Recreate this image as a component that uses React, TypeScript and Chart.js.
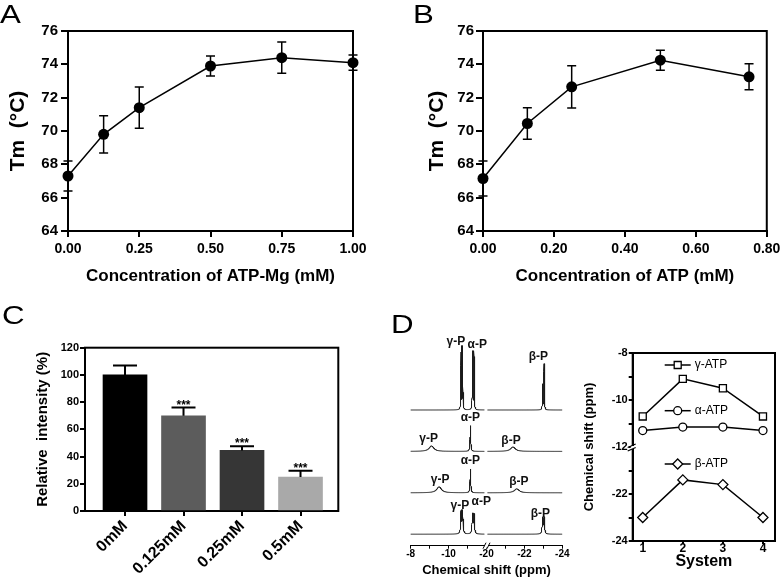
import React, { useEffect, useRef } from "react";
import { Chart, registerables } from "chart.js";

Chart.register(...registerables);
Chart.defaults.font.family = "'Liberation Sans', Arial, Helvetica, sans-serif";
Chart.defaults.color = "#000";

// ---------- Panel A: Tm vs ATP-Mg ----------
const atpMgConc = [0, 0.125, 0.25, 0.5, 0.75, 1.0];
const atpMgTm = [67.3, 69.8, 71.4, 73.9, 74.4, 74.1];
const atpMgErr = [0.9, 1.12, 1.24, 0.6, 0.94, 0.46];
const atpMgTicks = [0, 0.25, 0.5, 0.75, 1.0];

// ---------- Panel B: Tm vs ATP ----------
const atpConc = [0, 0.125, 0.25, 0.5, 0.75];
const atpTm = [67.15, 70.45, 72.65, 74.25, 73.25];
const atpErr = [1.05, 0.95, 1.27, 0.6, 0.78];
const atpTicks = [0, 0.2, 0.4, 0.6, 0.8];

const tmTicks = [64, 66, 68, 70, 72, 74, 76];

// ---------- Panel C: relative intensity ----------
const cCategories = ["0mM", "0.125mM", "0.25mM", "0.5mM"];
const cIntensity = [100, 70, 44.5, 25];
const cErr = [7, 6, 3, 4.5];
const cSig = ["", "***", "***", "***"];
const cColors = ["#000000", "#5c5c5c", "#363636", "#a9a9a9"];
const cTicks = [0, 20, 40, 60, 80, 100, 120];

// ---------- Panel D: 31P shifts ----------
const systems = [1, 2, 3, 4];
const gammaShift = [-10.7, -9.1, -9.5, -10.7];
const alphaShift = [-11.3, -11.15, -11.15, -11.3];
const betaShift = [-23.0, -21.4, -21.6, -23.0];
// spectrum peak intensities (arbitrary units) and half-widths (ppm)
const gammaHeight = [63, 5.5, 6, 22.5];
const alphaHeight = [58, 26, 24, 19.5];
const betaHeight = [47, 4.5, 4, 16];
const gammaWidth = [0.012, 0.15, 0.15, 0.025];
const alphaWidth = [0.012, 0.02, 0.02, 0.025];
const betaWidth = [0.012, 0.15, 0.15, 0.025];
const splitting = [0.08, 0, 0, 0.08];
const betaPairRatio = [0.55, 1, 1, 1];
const dLeftTickValues = [8, 9, 10, 11, 12, 13, 14, 15, 16];
const dRightTickValues = [-16, -15, -14, -13, -12, -11, -10, -9, -8];

const BLACK = "#000";
const BOLD = "bold";

// broken-axis compression
const xc = (ppm: number) => (ppm > -16 ? -ppm : -ppm - 8);
const yc = (ppm: number) => (ppm > -16 ? ppm : ppm + 8);

function ticksAt(values: number[]) {
  return (scale: any) => {
    scale.ticks = values.map((v) => ({ value: v }));
  };
}

const framePlugin = {
  id: "frame",
  beforeDatasetsDraw(chart: any, _a: any, opts: any) {
    const { ctx, chartArea } = chart;
    const { left, top, right, bottom } = chartArea;
    ctx.save();
    ctx.strokeStyle = BLACK;
    ctx.lineWidth = opts.width || 2;
    ctx.strokeRect(left, top, right - left, bottom - top);
    ctx.restore();
  },
};

function drawErrors(chart: any, opts: any) {
  const { ctx } = chart;
  const xs = chart.scales.x;
  const ys = chart.scales.y;
  ctx.save();
  ctx.strokeStyle = BLACK;
  ctx.lineWidth = opts.width || 1.5;
  chart.data.datasets.forEach((ds: any) => {
    if (!ds.errors) return;
    ds.data.forEach((d: any, i: number) => {
      const e = ds.errors[i];
      const x = xs.getPixelForValue(d.x);
      const yT = ys.getPixelForValue(d.y + e);
      const yB = opts.upperOnly ? ys.getPixelForValue(d.y) : ys.getPixelForValue(d.y - e);
      const c = opts.cap || 4.5;
      ctx.beginPath();
      ctx.moveTo(x, yT);
      ctx.lineTo(x, yB);
      ctx.moveTo(x - c, yT);
      ctx.lineTo(x + c, yT);
      if (!opts.upperOnly) {
        ctx.moveTo(x - c, yB);
        ctx.lineTo(x + c, yB);
      }
      ctx.stroke();
    });
  });
  ctx.restore();
}

const errorBarPlugin = {
  id: "errorBars",
  beforeDatasetsDraw(chart: any, _a: any, opts: any) {
    if (!opts.after) drawErrors(chart, opts);
  },
  afterDatasetsDraw(chart: any, _a: any, opts: any) {
    if (opts.after) drawErrors(chart, opts);
  },
};

const starsPlugin = {
  id: "stars",
  afterDatasetsDraw(chart: any) {
    const { ctx } = chart;
    const xs = chart.scales.x;
    const ys = chart.scales.y;
    const ds: any = chart.data.datasets[0];
    ctx.save();
    ctx.fillStyle = BLACK;
    ctx.font = "bold 12px 'Liberation Sans', Arial, sans-serif";
    ctx.textAlign = "center";
    ctx.textBaseline = "alphabetic";
    ds.data.forEach((d: any, i: number) => {
      const s = ds.sig[i];
      if (!s) return;
      ctx.fillText(s, xs.getPixelForValue(d.x), ys.getPixelForValue(d.y + ds.errors[i]) + 1);
    });
    ctx.restore();
  },
};

function axisCommon(tickLength: number, width = 2) {
  return {
    grid: { drawOnChartArea: false, tickLength, lineWidth: width, color: BLACK },
    border: { color: BLACK, width },
  };
}

function tmConfig(xs: number[], ys: number[], errs: number[], xTicks: number[], xTitle: string, geo: any): any {
  return {
    type: "line",
    data: {
      datasets: [
        {
          data: xs.map((x, i) => ({ x, y: ys[i] })),
          errors: errs,
          borderColor: BLACK,
          borderWidth: 1.5,
          pointRadius: 5.5,
          pointHoverRadius: 5.5,
          pointBackgroundColor: BLACK,
          pointBorderWidth: 0,
          clip: false,
          tension: 0,
        },
      ],
    },
    options: {
      animation: false,
      responsive: false,
      events: [],
      layout: { padding: { left: 0, right: geo.padRight, top: 31, bottom: 0 } },
      plugins: {
        legend: { display: false },
        tooltip: { enabled: false },
        frame: { width: 2 },
        errorBars: { cap: 4.5, width: 1.5 },
      },
      scales: {
        x: {
          type: "linear",
          min: xTicks[0],
          max: xTicks[xTicks.length - 1],
          afterBuildTicks: ticksAt(xTicks),
          afterFit: (s: any) => {
            s.height = 69;
          },
          ticks: {
            callback: (v: any) => Number(v).toFixed(2),
            font: { size: 14, weight: BOLD },
            padding: 3.6,
            maxRotation: 0,
            autoSkip: false,
            color: BLACK,
          },
          ...axisCommon(6),
          title: {
            display: true,
            text: xTitle,
            font: { size: 17, weight: BOLD },
            padding: { top: 0, bottom: geo.xTitlePad },
            color: BLACK,
          },
        },
        y: {
          type: "linear",
          min: 64,
          max: 76,
          afterBuildTicks: ticksAt(tmTicks),
          afterFit: (s: any) => {
            s.width = geo.yWidth;
          },
          ticks: { font: { size: 15, weight: BOLD }, padding: geo.yTickPad, color: BLACK },
          ...axisCommon(7),
          title: {
            display: true,
            text: "Tm  (°C)",
            font: { size: 21, weight: BOLD },
            padding: { top: geo.yTitlePad, bottom: 0 },
            color: BLACK,
          },
        },
      },
    },
    plugins: [framePlugin, errorBarPlugin],
  };
}

function barConfig(): any {
  return {
    type: "bar",
    data: {
      datasets: [
        {
          data: cIntensity.map((v, i) => ({ x: i, y: v })),
          errors: cErr,
          sig: cSig,
          backgroundColor: cColors,
          borderWidth: 0,
          barThickness: 44,
        },
      ],
    },
    options: {
      animation: false,
      responsive: false,
      events: [],
      layout: { padding: { left: 0, right: 53.7, top: 47.7, bottom: 0 } },
      plugins: {
        legend: { display: false },
        tooltip: { enabled: false },
        frame: { width: 2 },
        errorBars: { cap: 12, width: 2, upperOnly: true, after: true },
      },
      scales: {
        x: {
          type: "linear",
          min: -0.684,
          max: 3.646,
          offset: false,
          afterBuildTicks: ticksAt([0, 1, 2, 3]),
          afterFit: (s: any) => {
            s.height = 69;
          },
          ticks: {
            callback: (v: any) => cCategories[v] ?? "",
            font: { size: 16, weight: BOLD },
            minRotation: 45,
            maxRotation: 45,
            padding: 1,
            autoSkip: false,
            color: BLACK,
          },
          grid: { offset: false, drawOnChartArea: false, tickLength: 5, lineWidth: 2, color: BLACK },
          border: { color: BLACK, width: 2 },
        },
        y: {
          type: "linear",
          min: 0,
          max: 120,
          afterBuildTicks: ticksAt(cTicks),
          afterFit: (s: any) => {
            s.width = 85;
          },
          ticks: { font: { size: 11, weight: BOLD }, padding: 1, color: BLACK },
          ...axisCommon(5),
          title: {
            display: true,
            text: "Relative  intensity (%)",
            font: { size: 15, weight: BOLD },
            padding: { top: 34.3, bottom: 0 },
            color: BLACK,
          },
        },
      },
    },
    plugins: [framePlugin, errorBarPlugin, starsPlugin],
  };
}

// ---------- D left: stacked spectra ----------
function traceBase(i: number) {
  return 11.5 + (3 - i) * 41.4;
}

function spectrumSegment(i: number, from: number, to: number) {
  const peaks: number[][] = [];
  const add = (p: number, h: number, w: number, J: number, ratio = 1) => {
    if (J > 0) {
      peaks.push([p + J / 2, h * ratio, w]);
      peaks.push([p - J / 2, h, w]);
    } else peaks.push([p, h, w]);
  };
  add(gammaShift[i], gammaHeight[i], gammaWidth[i], splitting[i]);
  add(alphaShift[i], alphaHeight[i], alphaWidth[i], splitting[i]);
  add(betaShift[i], betaHeight[i], betaWidth[i], splitting[i], betaPairRatio[i]);
  const base = traceBase(i);
  const pts: any[] = [];
  const n = Math.round((from - to) / 0.004);
  for (let k = 0; k <= n; k++) {
    const p = from - k * 0.004;
    let y = 0;
    for (const [c, h, w] of peaks) {
      const d = (p - c) / w;
      y += h / (1 + d * d);
    }
    pts.push({ x: xc(p), y: base + y });
  }
  return pts;
}

const specLabelOffsets = [
  [[-6, -5], [4, -7.5], [-5, -6.5]],
  [[-3, -7.5], [0, -7.5], [-2, -6.5]],
  [[1, -7], [0, -8], [2, -7]],
  [[-2, -6.5], [8, -13], [-3, -5]],
];

const specLabelPlugin = {
  id: "specLabels",
  afterDatasetsDraw(chart: any) {
    const { ctx } = chart;
    const xs = chart.scales.x;
    const ys = chart.scales.y;
    ctx.save();
    ctx.fillStyle = "#111";
    ctx.font = "bold 12px 'Liberation Sans', Arial, sans-serif";
    ctx.textAlign = "center";
    ctx.textBaseline = "middle";
    systems.forEach((_s, i) => {
      const items = [
        ["γ-P", gammaShift[i], gammaHeight[i]],
        ["α-P", alphaShift[i], alphaHeight[i]],
        ["β-P", betaShift[i], betaHeight[i]],
      ];
      items.forEach((it: any, j) => {
        const [dx, dy] = specLabelOffsets[i][j];
        const x = xs.getPixelForValue(xc(it[1])) + dx;
        const y = ys.getPixelForValue(traceBase(i) + it[2]) + dy;
        ctx.fillText(it[0], x, y);
      });
    });
    // axis break mark
    const bx = xs.getPixelForValue(12);
    const by = chart.chartArea.bottom;
    ctx.fillStyle = "#fff";
    ctx.fillRect(bx - 1.5, by - 2, 3, 4);
    ctx.strokeStyle = BLACK;
    ctx.lineWidth = 1;
    ctx.beginPath();
    ctx.moveTo(bx - 3.5, by + 3);
    ctx.lineTo(bx - 0.5, by - 3);
    ctx.moveTo(bx + 0.5, by + 3);
    ctx.lineTo(bx + 3.5, by - 3);
    ctx.stroke();
    ctx.restore();
  },
};

function spectraConfig(): any {
  const datasets: any[] = [];
  systems.forEach((_s, i) => {
    [
      [-8, -11.9],
      [-20.05, -24],
    ].forEach(([a, b]) => {
      datasets.push({
        data: spectrumSegment(i, a, b),
        borderColor: "#1a1a1a",
        borderWidth: 1,
        pointRadius: 0,
        tension: 0,
        clip: false,
      });
    });
  });
  return {
    type: "line",
    data: { datasets },
    options: {
      animation: false,
      responsive: false,
      events: [],
      layout: { padding: { left: 18.7, right: 29.7, top: 30.7, bottom: 0 } },
      plugins: { legend: { display: false }, tooltip: { enabled: false } },
      scales: {
        x: {
          type: "linear",
          min: 8,
          max: 16,
          afterBuildTicks: ticksAt(dLeftTickValues),
          afterFit: (s: any) => {
            s.height = 34.3;
          },
          ticks: {
            callback: (v: any) => (v % 2 === 0 ? (v < 12 ? `-${v}` : `-${v + 8}`) : ""),
            font: { size: 10, weight: BOLD },
            padding: 0,
            maxRotation: 0,
            autoSkip: false,
            color: BLACK,
          },
          ...axisCommon(3, 1),
          title: {
            display: true,
            text: "Chemical shift (ppm)",
            font: { size: 13, weight: BOLD },
            padding: { top: 0, bottom: 2.2 },
            color: BLACK,
          },
        },
        y: { display: false, min: 0, max: 215 },
      },
    },
    plugins: [specLabelPlugin],
  };
}

// ---------- D right: shift vs system ----------
function drawMarker(ctx: any, style: string, x: number, y: number) {
  ctx.beginPath();
  if (style === "rect") ctx.rect(x - 3.5, y - 3.5, 7, 7);
  else if (style === "circle") ctx.arc(x, y, 4, 0, Math.PI * 2);
  else {
    ctx.moveTo(x, y - 5);
    ctx.lineTo(x + 5, y);
    ctx.lineTo(x, y + 5);
    ctx.lineTo(x - 5, y);
    ctx.closePath();
  }
  ctx.fillStyle = "#fff";
  ctx.fill();
  ctx.stroke();
}

const shiftLegendPlugin = {
  id: "shiftLegend",
  afterDatasetsDraw(chart: any) {
    const { ctx, chartArea } = chart;
    const { left, top } = chartArea;
    const entries = [
      ["γ-ATP", "rect", 12],
      ["α-ATP", "circle", 57.7],
      ["β-ATP", "rectRot", 111],
    ];
    ctx.save();
    ctx.strokeStyle = BLACK;
    ctx.lineWidth = 1.5;
    entries.forEach((e: any) => {
      const y = top + e[2];
      ctx.beginPath();
      ctx.moveTo(left + 32, y);
      ctx.lineTo(left + 58, y);
      ctx.stroke();
      ctx.lineWidth = 1.3;
      drawMarker(ctx, e[1], left + 45, y);
      ctx.lineWidth = 1.5;
      ctx.fillStyle = BLACK;
      ctx.font = "12px 'Liberation Sans', Arial, sans-serif";
      ctx.textAlign = "left";
      ctx.textBaseline = "middle";
      ctx.fillText(e[0], left + 62, y);
    });
    // y-axis break mark
    const by = chart.scales.y.getPixelForValue(-12);
    ctx.fillStyle = "#fff";
    ctx.fillRect(left - 2, by - 1, 4, 3);
    ctx.lineWidth = 1.2;
    ctx.beginPath();
    ctx.moveTo(left - 5, by + 0.5);
    ctx.lineTo(left + 3, by - 3);
    ctx.moveTo(left - 5, by + 4);
    ctx.lineTo(left + 3, by + 0.5);
    ctx.stroke();
    ctx.restore();
  },
};

function shiftConfig(): any {
  const mk = (vals: number[], style: string, r: number) => ({
    data: systems.map((s, i) => ({ x: s, y: yc(vals[i]) })),
    borderColor: BLACK,
    borderWidth: 1.5,
    pointStyle: style,
    pointRadius: r,
    pointHoverRadius: r,
    pointBackgroundColor: "#fff",
    pointBorderColor: BLACK,
    pointBorderWidth: 1.3,
    tension: 0,
    clip: false,
  });
  return {
    type: "line",
    data: {
      datasets: [mk(gammaShift, "rect", 5), mk(alphaShift, "circle", 4), mk(betaShift, "rectRot", 5)],
    },
    options: {
      animation: false,
      responsive: false,
      events: [],
      layout: { padding: { left: 0, right: 9, top: 53, bottom: 0 } },
      plugins: { legend: { display: false }, tooltip: { enabled: false }, frame: { width: 2 } },
      scales: {
        x: {
          type: "linear",
          min: 0.75,
          max: 4.3,
          afterBuildTicks: ticksAt(systems),
          afterFit: (s: any) => {
            s.height = 39;
          },
          ticks: {
            callback: (v: any) => String(v),
            font: { size: 12, weight: BOLD },
            padding: -3,
            maxRotation: 0,
            autoSkip: false,
            color: BLACK,
          },
          ...axisCommon(3, 2),
          title: {
            display: true,
            text: "System",
            font: { size: 16, weight: BOLD },
            padding: { top: 0, bottom: 8.4 },
            color: BLACK,
          },
        },
        y: {
          type: "linear",
          min: -16,
          max: -8,
          afterBuildTicks: ticksAt(dRightTickValues),
          afterFit: (s: any) => {
            s.width = 57.7;
          },
          ticks: {
            callback: (v: any) => (v % 2 === 0 ? (v >= -12 ? `${v}` : `${v - 8}`) : ""),
            font: { size: 11, weight: BOLD },
            padding: 1,
            autoSkip: false,
            color: BLACK,
          },
          ...axisCommon(4, 2),
          title: {
            display: true,
            text: "Chemical shift (ppm)",
            font: { size: 13, weight: BOLD },
            padding: { top: 6.2, bottom: 0 },
            color: BLACK,
          },
        },
      },
    },
    plugins: [framePlugin, shiftLegendPlugin],
  };
}

function ChartCanvas(props: { make: () => any; left: number; top: number; width: number; height: number }) {
  const ref = useRef<HTMLCanvasElement>(null);
  useEffect(() => {
    const chart = new Chart(ref.current as HTMLCanvasElement, props.make());
    return () => chart.destroy();
  }, []);
  return (
    <canvas
      ref={ref}
      width={props.width}
      height={props.height}
      style={{ position: "absolute", left: props.left, top: props.top, width: props.width, height: props.height }}
    />
  );
}

function PanelLetter(props: { text: string; left: number; top: number }) {
  return (
    <div
      style={{
        position: "absolute",
        left: props.left,
        top: props.top,
        fontFamily: "'Liberation Sans', Arial, sans-serif",
        fontSize: 25,
        lineHeight: "25px",
        color: "#000",
        transform: "scaleX(1.25)",
        transformOrigin: "left top",
      }}
    >
      {props.text}
    </div>
  );
}

export default function App() {
  return (
    <div style={{ position: "absolute", left: 0, top: 0, width: 784, height: 580, background: "#fff", overflow: "hidden" }}>
      <ChartCanvas
        left={0}
        top={0}
        width={392}
        height={300}
        make={() =>
          tmConfig(atpMgConc, atpMgTm, atpMgErr, atpMgTicks, "Concentration of ATP-Mg (mM)", {
            padRight: 39,
            yWidth: 68,
            yTickPad: 3,
            yTitlePad: 5.7,
            xTitlePad: 13.8,
          })
        }
      />
      <ChartCanvas
        left={392}
        top={0}
        width={392}
        height={300}
        make={() =>
          tmConfig(atpConc, atpTm, atpErr, atpTicks, "Concentration of ATP (mM)", {
            padRight: 14.3,
            yWidth: 91,
            yTickPad: 2,
            yTitlePad: 32.4,
            xTitlePad: 13.1,
          })
        }
      />
      <ChartCanvas left={0} top={300} width={392} height={280} make={barConfig} />
      <ChartCanvas left={392} top={300} width={200} height={280} make={spectraConfig} />
      <ChartCanvas left={575} top={300} width={209} height={280} make={shiftConfig} />
      <PanelLetter text="A" left={0} top={1.7} />
      <PanelLetter text="B" left={413} top={1.7} />
      <PanelLetter text="C" left={2} top={303.4} />
      <PanelLetter text="D" left={391} top={311.7} />
    </div>
  );
}
